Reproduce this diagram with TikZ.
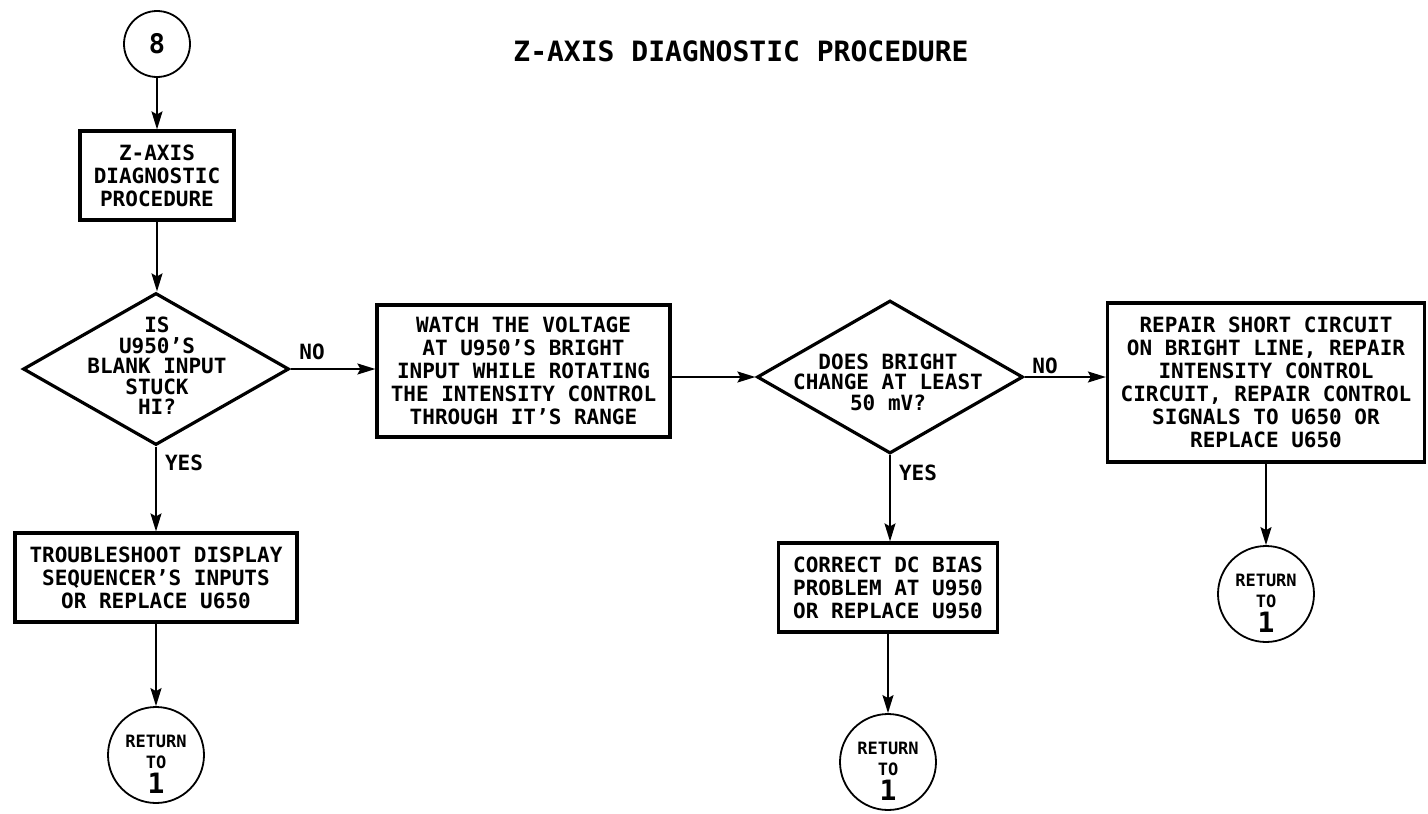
\documentclass[tikz,border=0pt]{standalone}
\usepackage{fontspec}
\setmainfont{DejaVu Sans Mono}
\usetikzlibrary{shapes.geometric,arrows.meta}
\begin{document}
\begin{tikzpicture}[x=1pt,y=-1pt,
  boxst/.style={draw, line width=3.2pt, inner sep=0pt, align=center,
    font=\bfseries\fontsize{21}{23}\selectfont},
  dia/.style={draw, shape=diamond, line width=3.2pt, inner sep=0pt},
  diatext/.style={align=center, inner sep=0pt, font=\bfseries\fontsize{21}{20.5}\selectfont},
  circ/.style={draw, circle, line width=1.8pt, inner sep=0pt, align=center},
  rettext/.style={align=center, inner sep=0pt, font=\bfseries\fontsize{17}{21}\selectfont},
  lbl/.style={inner sep=0pt, font=\bfseries\fontsize{21}{21}\selectfont},
  conn/.style={line width=1.8pt, -{Stealth[length=18pt,width=11pt,inset=3pt]}}
]
\useasboundingbox (0,0) rectangle (1428,814);
\fill[white] (0,0) rectangle (1428,814);

% title
\node[inner sep=0pt, font=\bfseries\fontsize{28}{28}\selectfont] (title) at (741,51) {Z-AXIS DIAGNOSTIC PROCEDURE};

% start circle
\node[circ, minimum size=66pt, font=\bfseries\fontsize{27}{27}\selectfont] (c8) at (157,44) {8};

% boxes
\node[boxst, minimum width=154pt, minimum height=89pt] (box1) at (157,175.5)
  {Z-AXIS\\DIAGNOSTIC\\PROCEDURE};
\node[boxst, minimum width=293pt, minimum height=132pt] (box2) at (523.5,371)
  {WATCH THE VOLTAGE\\AT U950'S BRIGHT\\INPUT WHILE ROTATING\\THE INTENSITY CONTROL\\THROUGH IT'S RANGE};
\node[boxst, minimum width=317pt, minimum height=159pt] (box3) at (1266,382.5)
  {REPAIR SHORT CIRCUIT\\ON BRIGHT LINE, REPAIR\\INTENSITY CONTROL\\CIRCUIT, REPAIR CONTROL\\SIGNALS TO U650 OR\\REPLACE U650};
\node[boxst, minimum width=282pt, minimum height=89pt] (box4) at (156,577.5)
  {TROUBLESHOOT DISPLAY\\SEQUENCER'S INPUTS\\OR REPLACE U650};
\node[boxst, minimum width=219pt, minimum height=89pt] (box5) at (888,587.5)
  {CORRECT DC BIAS\\PROBLEM AT U950\\OR REPLACE U950};

% diamonds
\node[dia, minimum width=266pt, minimum height=152pt] (d1) at (156,369) {};
\node[diatext] (d1t) at (157,366) {IS\\U950'S\\BLANK INPUT\\STUCK\\HI?};
\node[dia, minimum width=266pt, minimum height=153pt] (d2) at (890,377) {};
\node[diatext] (d2t) at (888,382) {DOES BRIGHT\\CHANGE AT LEAST\\50 mV?};

% return circles
\node[circ, minimum size=96pt] (r1) at (156,755) {};
\node[rettext] (r1t) at (156,764) {RETURN\\TO\\[4pt]{\fontsize{28}{28}\selectfont 1}};
\node[circ, minimum size=96pt] (r2) at (888,762) {};
\node[rettext] (r2t) at (888,771) {RETURN\\TO\\[4pt]{\fontsize{28}{28}\selectfont 1}};
\node[circ, minimum size=96pt] (r3) at (1266,594) {};
\node[rettext] (r3t) at (1266,603) {RETURN\\TO\\[4pt]{\fontsize{28}{28}\selectfont 1}};

% labels
\node[lbl] (no1) at (312,352) {NO};
\node[lbl] (yes1) at (184,463) {YES};
\node[lbl] (no2) at (1045,366) {NO};
\node[lbl] (yes2) at (918,473) {YES};

% connectors
\draw[conn] (c8.south) -- (c8.south |- box1.north);
\draw[conn] (box1.south) -- (box1.south |- d1.north);
\draw[conn] (d1.east) -- (d1.east -| box2.west);
\draw[conn] (d1.south) -- (d1.south |- box4.north);
\draw[conn] (box4.south) -- (box4.south |- r1.north);
\draw[conn] (box2.east |- d2.west) -- (d2.west);
\draw[conn] (d2.east) -- (d2.east -| box3.west);
\draw[conn] (d2.south) -- (d2.south |- box5.north);
\draw[conn] (box5.south) -- (box5.south |- r2.north);
\draw[conn] (box3.south) -- (box3.south |- r3.north);
\end{tikzpicture}
\end{document}
